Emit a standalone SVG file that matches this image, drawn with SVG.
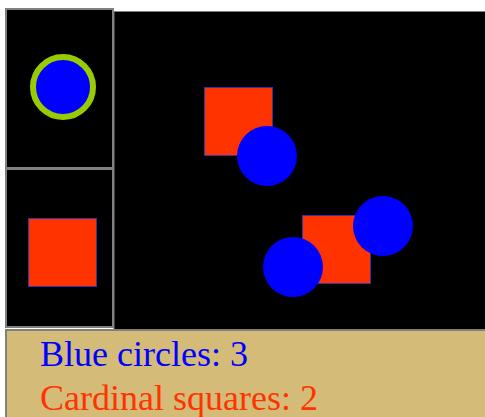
<svg xmlns="http://www.w3.org/2000/svg" width="485" height="417" viewBox="0 0 485 417">
<style>
.cell{fill:#000;stroke:#808080;stroke-width:2}
.sq{fill:#ff3300;stroke:#3333aa;stroke-width:1}
.ci{fill:#0000ff}
.lbl{font-family:"Liberation Serif","Times New Roman",serif;font-size:36px}
</style>
<rect width="485" height="417" fill="#fff"/>
<g id="main">
<rect x="114" y="11.5" width="380" height="318" fill="#000" stroke="#808080" stroke-width="1"/>
</g>
<g id="legend-circle">
<rect class="cell" x="6" y="9" width="107" height="159"/>
<circle cx="63" cy="87" r="30" fill="#0000ff" stroke="#99cc00" stroke-width="6"/>
</g>
<g id="legend-square">
<rect class="cell" x="6" y="169" width="107" height="158"/>
<rect class="sq" x="28.5" y="218.5" width="68" height="68"/>
</g>
<g id="square1"><rect class="sq" x="204.5" y="87.5" width="68" height="68"/></g>
<g id="circle1"><circle class="ci" cx="267" cy="156" r="30"/></g>
<g id="square2"><rect class="sq" x="302.5" y="215.5" width="68" height="68"/></g>
<g id="circle2"><circle class="ci" cx="383" cy="226" r="30"/></g>
<g id="circle3"><circle class="ci" cx="293" cy="267" r="30"/></g>
<g id="counts">
<rect x="6" y="330" width="490" height="100" fill="#d4bc78" stroke="#808080" stroke-width="2"/>
<text class="lbl" x="40" y="366" fill="#0000ff">Blue circles: 3</text>
<text class="lbl" x="40" y="410" fill="#ff3300">Cardinal squares: 2</text>
</g>
<g id="connectors"/>
</svg>
